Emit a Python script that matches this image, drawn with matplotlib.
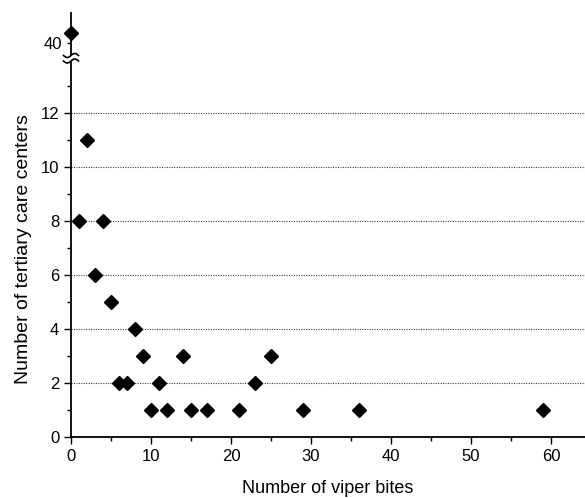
import numpy as np
import matplotlib
matplotlib.use("Agg")
import matplotlib.pyplot as plt
from matplotlib.lines import Line2D

# Data
bites = [0, 1, 2, 3, 4, 5, 6, 7, 8, 9, 10, 11, 12, 14, 15, 17, 21, 23, 25, 29, 36, 59]
centers = [42, 8, 11, 6, 8, 5, 2, 2, 4, 3, 1, 2, 1, 3, 1, 1, 1, 2, 3, 1, 1, 1]
x_ticks = [0, 10, 20, 30, 40, 50, 60]
y_ticks = [0, 2, 4, 6, 8, 10, 12]
top_ticks = [40]

plt.rcParams['font.family'] = ['Liberation Sans', 'DejaVu Sans']
W, H = 585, 498
fig = plt.figure(figsize=(W / 100, H / 100), dpi=100)

def fx(px):
    return px / W

def fy(py):
    return (H - py) / H

left_px, right_px = 71, 585
bot_px, lowtop_px = 437, 62
uptop_px, upbot_px = 13, 55

ax = fig.add_axes([fx(left_px), fy(bot_px), fx(right_px - left_px), (bot_px - lowtop_px) / H])
axt = fig.add_axes([fx(left_px), fy(upbot_px), fx(right_px - left_px), (upbot_px - uptop_px) / H], sharex=ax)

bx = np.array(bites, dtype=float)
cy = np.array(centers, dtype=float)
low = cy < 20
ax.plot(bx[low], cy[low], linestyle='none', marker='D', ms=7.2, color='black', clip_on=False, zorder=5)
axt.plot(bx[~low], cy[~low], linestyle='none', marker='D', ms=7.2, color='black', clip_on=False, zorder=5)

ax.set_xlim(0, (right_px - left_px) / 8.0)
ax.set_ylim(0, (bot_px - lowtop_px) / 27.0)
axt.set_ylim(37.6, 37.6 + (upbot_px - uptop_px) / 5.0)

for a in (ax, axt):
    a.spines['top'].set_visible(False)
    a.spines['right'].set_visible(False)
    a.patch.set_alpha(0)
axt.spines['bottom'].set_visible(False)

ax.set_xticks(x_ticks)
ax.set_xticks(np.arange(5, 64, 10), minor=True)
ax.set_yticks(y_ticks)
ax.set_yticks(np.arange(1, 14, 2), minor=True)
axt.set_yticks(top_ticks)
axt.tick_params(axis='x', which='both', bottom=False, labelbottom=False)

ax.tick_params(axis='both', which='major', direction='out', length=5, width=1, labelsize=12, colors='black')
ax.tick_params(axis='both', which='minor', direction='out', length=3, width=1)
axt.tick_params(axis='y', which='major', direction='out', length=3, width=1, labelsize=12)

ax.grid(axis='y', which='major', linestyle=(0, (1, 1.2)), color='0.25', linewidth=0.8)
for a in (ax, axt):
    for s in a.spines.values():
        s.set_linewidth(1.3)

ax.set_xlabel('Number of viper bites', fontsize=13, labelpad=12)
ax.set_ylabel('Number of tertiary care centers', fontsize=14, labelpad=8)
ax.yaxis.set_label_coords(-0.076, 0.5)

# break marks on the y axis
t = np.linspace(-1, 1, 40)
for yc in (55.5, 61.0):
    xs = left_px + 7.5 * t
    ys = yc - 2.0 * np.sin(np.pi * t)
    fig.add_artist(Line2D(fx(xs), fy(ys), color='black', lw=1.2, transform=fig.transFigure))

fig.savefig('out.png', dpi=100)
